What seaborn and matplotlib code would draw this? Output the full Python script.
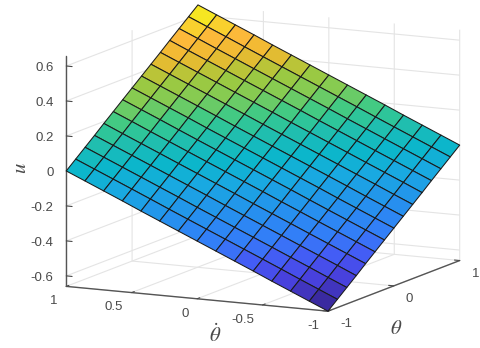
import numpy as np
import matplotlib
matplotlib.use("Agg")
import matplotlib.pyplot as plt
import seaborn as sns

# grid of the controller surface
theta = [-1.0, -0.857, -0.714, -0.571, -0.429, -0.286, -0.143, 0.0, 0.143, 0.286, 0.429, 0.571, 0.714, 0.857, 1.0]
theta_dot = [-1.0, -0.857, -0.714, -0.571, -0.429, -0.286, -0.143, 0.0, 0.143, 0.286, 0.429, 0.571, 0.714, 0.857, 1.0]

# control output, one row per theta_dot value
u_rows = [
    [-0.66, -0.613, -0.566, -0.519, -0.471, -0.424, -0.377, -0.33, -0.283, -0.236, -0.189, -0.141, -0.094, -0.047, 0.0],
    [-0.613, -0.566, -0.519, -0.471, -0.424, -0.377, -0.33, -0.283, -0.236, -0.189, -0.141, -0.094, -0.047, 0.0, 0.047],
    [-0.566, -0.519, -0.471, -0.424, -0.377, -0.33, -0.283, -0.236, -0.189, -0.141, -0.094, -0.047, 0.0, 0.047, 0.094],
    [-0.519, -0.471, -0.424, -0.377, -0.33, -0.283, -0.236, -0.189, -0.141, -0.094, -0.047, 0.0, 0.047, 0.094, 0.141],
    [-0.471, -0.424, -0.377, -0.33, -0.283, -0.236, -0.189, -0.141, -0.094, -0.047, 0.0, 0.047, 0.094, 0.141, 0.189],
    [-0.424, -0.377, -0.33, -0.283, -0.236, -0.189, -0.141, -0.094, -0.047, 0.0, 0.047, 0.094, 0.141, 0.189, 0.236],
    [-0.377, -0.33, -0.283, -0.236, -0.189, -0.141, -0.094, -0.047, 0.0, 0.047, 0.094, 0.141, 0.189, 0.236, 0.283],
    [-0.33, -0.283, -0.236, -0.189, -0.141, -0.094, -0.047, 0.0, 0.047, 0.094, 0.141, 0.189, 0.236, 0.283, 0.33],
    [-0.283, -0.236, -0.189, -0.141, -0.094, -0.047, 0.0, 0.047, 0.094, 0.141, 0.189, 0.236, 0.283, 0.33, 0.377],
    [-0.236, -0.189, -0.141, -0.094, -0.047, 0.0, 0.047, 0.094, 0.141, 0.189, 0.236, 0.283, 0.33, 0.377, 0.424],
    [-0.189, -0.141, -0.094, -0.047, 0.0, 0.047, 0.094, 0.141, 0.189, 0.236, 0.283, 0.33, 0.377, 0.424, 0.471],
    [-0.141, -0.094, -0.047, 0.0, 0.047, 0.094, 0.141, 0.189, 0.236, 0.283, 0.33, 0.377, 0.424, 0.471, 0.519],
    [-0.094, -0.047, 0.0, 0.047, 0.094, 0.141, 0.189, 0.236, 0.283, 0.33, 0.377, 0.424, 0.471, 0.519, 0.566],
    [-0.047, 0.0, 0.047, 0.094, 0.141, 0.189, 0.236, 0.283, 0.33, 0.377, 0.424, 0.471, 0.519, 0.566, 0.613],
    [0.0, 0.047, 0.094, 0.141, 0.189, 0.236, 0.283, 0.33, 0.377, 0.424, 0.471, 0.519, 0.566, 0.613, 0.66],
]

theta_ticks = [-1, 0, 1]
theta_labels = ["-1", "0", "1"]
theta_dot_ticks = [-1, -0.5, 0, 0.5, 1]
theta_dot_labels = ["-1", "-0.5", "0", "0.5", "1"]
u_ticks = [-0.6, -0.4, -0.2, 0, 0.2, 0.4, 0.6]
u_labels = ["-0.6", "-0.4", "-0.2", "0", "0.2", "0.4", "0.6"]

surface_colors = ["#3a2aa0", "#4840dc", "#4658f5", "#347cf8", "#2a8af2", "#209ae8", "#18aae0", "#0cb6cc",
                  "#1ebdb2", "#38ca8c", "#7ccc58", "#a4c83c", "#ecba30", "#fdb93a", "#f6e622"]

sns.set_style("white")
plt.rcParams["font.family"] = ["Liberation Sans", "DejaVu Sans"]
plt.rcParams["mathtext.fontset"] = "stix"
plt.rcParams["grid.color"] = "#e4e4e4"
plt.rcParams["grid.linewidth"] = 0.8

text_color = "#4a4a4a"

X, Y = np.meshgrid(theta, theta_dot)
U = np.array(u_rows)

# each facet gets the colour of its centre value
cell_values = (U[:-1, :-1] + U[1:, :-1] + U[:-1, 1:] + U[1:, 1:]) / 4
cmap = sns.blend_palette(surface_colors, as_cmap=True)
norm = plt.Normalize(cell_values.min(), cell_values.max())
face_colors = cmap(norm(cell_values))

fig = plt.figure(figsize=(4.8, 3.48), dpi=100)
side = 464
cx, cy = 256.7, 164.3
ax = fig.add_axes([(cx - side / 2) / 480, (348 - cy - side / 2) / 348, side / 480, side / 348], projection="3d")
ax.patch.set_alpha(0)
ax.set_proj_type("ortho")
ax.view_init(elev=11, azim=-153.6)
ax.set_box_aspect((296, 292, 235))

ax.plot_surface(X, Y, U, facecolors=face_colors, edgecolor="#1a1a1a", linewidth=0.75,
                rstride=1, cstride=1, shade=False, antialiased=True)

ax.set_xlim(-1, 1)
ax.set_ylim(-1, 1)
ax.set_zlim(-0.66, 0.66)
ax.set_xticks(theta_ticks)
ax.set_xticklabels(theta_labels)
ax.set_yticks(theta_dot_ticks)
ax.set_yticklabels(theta_dot_labels)
ax.set_zticks(u_ticks)
ax.set_zticklabels(u_labels)

for axis in (ax.xaxis, ax.yaxis, ax.zaxis):
    axis.set_pane_color((1, 1, 1, 0))
    axis.pane.set_edgecolor("none")
    axis.line.set_color("#555555")
    axis.line.set_linewidth(1.0)
    axis._axinfo["tick"]["inward_factor"] = 0.0
    axis._axinfo["tick"]["outward_factor"] = 0.25
    axis._axinfo["tick"]["color"] = "#555555"
    axis._axinfo["tick"]["linewidth"] = {True: 0.8, False: 0.8}

# z ticks run along the theta_dot direction in the reference, to the left of the axis
ax.zaxis._get_tickdir = lambda pos: 1
ax.zaxis._axinfo["tick"]["inward_factor"] = 0.28
ax.zaxis._axinfo["tick"]["outward_factor"] = 0.0

ax.tick_params(axis="x", colors=text_color, labelsize=9.5, pad=0)
ax.tick_params(axis="y", colors=text_color, labelsize=9.5, pad=3)
ax.tick_params(axis="z", colors=text_color, labelsize=9.5, pad=-2.4)

# nudge the tick labels to where the reference has them
for tick in ax.xaxis.get_major_ticks():
    tick.label1.set_va("center_baseline")
    tick.label1.set_ha("left")
for tick in ax.yaxis.get_major_ticks():
    tick.label1.set_va("baseline")
    tick.label1.set_ha("right")
for tick in ax.zaxis.get_major_ticks():
    tick.label1.set_va("center_baseline")
    tick.label1.set_ha("right")

fig.text(215 / 480, 1 - 335 / 348, r"$\dot{\theta}$", fontsize=15, color=text_color, ha="center", va="center")
fig.text(396 / 480, 1 - 329 / 348, r"$\theta$", fontsize=15, color=text_color, ha="center", va="center")
fig.text(20 / 480, 1 - 168 / 348, r"$u$", fontsize=15, color=text_color, rotation=90, ha="center", va="center")

fig.savefig("out.png", dpi=100)
